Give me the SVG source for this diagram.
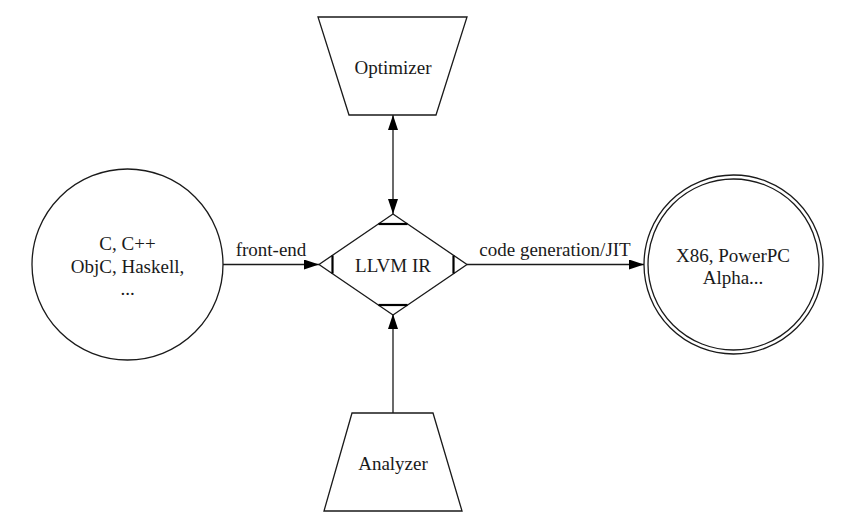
<svg xmlns="http://www.w3.org/2000/svg" width="853" height="520" viewBox="0 0 853 520">
<style>
.s{fill:none;stroke:#1a1a1a;stroke-width:1.3}
.n{fill:#fff;stroke:#1a1a1a;stroke-width:1.3}
.b{stroke:#000;stroke-width:2.2}
.t{font-family:"Liberation Serif","Times New Roman",serif;font-size:19px;fill:#1a1a1a;text-anchor:middle}
</style>
<defs>
<marker id="ah" viewBox="0 0 15 10" refX="15" refY="5" markerWidth="15" markerHeight="10" markerUnits="userSpaceOnUse" orient="auto-start-reverse">
<path d="M0,0 L15,5 L0,10 Z" fill="#000"/>
</marker>
</defs>
<rect width="853" height="520" fill="#fff"/>
<g id="connectors">
<line class="s" x1="223" y1="264.5" x2="319" y2="264.5" marker-end="url(#ah)"/>
<line class="s" x1="467" y1="264.5" x2="644" y2="264.5" marker-end="url(#ah)"/>
<line class="s" x1="393" y1="115" x2="393" y2="214" marker-start="url(#ah)" marker-end="url(#ah)"/>
<line class="s" x1="393" y1="413" x2="393" y2="314" marker-end="url(#ah)"/>
<text class="t" x="271" y="256">front-end</text>
<text class="t" x="555" y="256">code generation/JIT</text>
</g>
<g id="source">
<circle class="n" cx="127.5" cy="264.5" r="95.5"/>
<text class="t" x="127.5" y="250">C, C++</text>
<text class="t" x="127.5" y="272.5">ObjC, Haskell,</text>
<text class="t" x="127.5" y="295">...</text>
</g>
<g id="llvmir">
<polygon class="n" points="393,214 467,264.5 393,315 319,264.5"/>
<line class="b" x1="378.5" y1="224" x2="407.5" y2="224"/>
<line class="b" x1="378.5" y1="305" x2="407.5" y2="305"/>
<line class="b" x1="332.5" y1="255.5" x2="332.5" y2="273.5"/>
<line class="b" x1="453.5" y1="255.5" x2="453.5" y2="273.5"/>
<text class="t" x="393" y="271.5">LLVM IR</text>
</g>
<g id="target">
<circle class="n" cx="733.5" cy="264.5" r="89.5"/>
<circle class="n" cx="733.5" cy="264.5" r="85.5"/>
<text class="t" x="733" y="262">X86, PowerPC</text>
<text class="t" x="733" y="284">Alpha...</text>
</g>
<g id="optimizer">
<polygon class="n" points="318,17 467,17 436,115 349,115"/>
<text class="t" x="393" y="74">Optimizer</text>
</g>
<g id="analyzer">
<polygon class="n" points="352,413 433,413 462,511 324,511"/>
<text class="t" x="393" y="470">Analyzer</text>
</g>
</svg>
